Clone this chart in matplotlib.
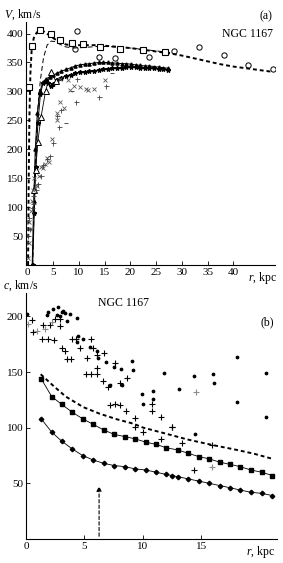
import numpy as np
import matplotlib.pyplot as plt

plt.rcParams['font.family'] = ['Liberation Serif', 'DejaVu Serif']
plt.rcParams['mathtext.fontset'] = 'custom'
plt.rcParams['mathtext.rm'] = 'Liberation Serif'
plt.rcParams['mathtext.it'] = 'Liberation Serif:italic'
plt.rcParams['font.size'] = 8

# ---------------- panel (a): rotation curves ----------------
sq_r = [0.2, 0.9, 2.5, 4.55, 6.4, 8.6, 10.7, 14.1, 18.0, 22.4, 26.7]
sq_V = [307, 378, 407, 399, 389, 384, 382, 376, 373, 372, 368]

circ_r = [9.6, 9.2, 13.9, 17.0, 23.7, 28.5, 33.4, 38.2, 42.9, 47.8]
circ_V = [404, 373, 360, 357, 360, 370, 377, 363, 346, 338]

thick_r = [0.1, 0.2, 0.35, 0.55, 0.8, 1.2, 1.8, 2.5, 3.3, 4.2, 5.2, 6.4, 7.5, 9.0, 11.0, 13.0,
           15.0, 17.5, 20.0, 22.5, 25.0, 27.5, 30.0, 32.5, 35.0, 37.5, 40.0, 42.5, 45.0, 47.5]
thick_V = [0, 120, 250, 330, 372, 392, 402, 405, 403, 397, 391, 385, 381, 380, 380, 380,
           379, 377, 375, 372, 369, 366, 362, 357, 352, 347, 343, 340, 337, 334]

thin_r = [1.0, 1.3, 1.6, 2.0, 2.5, 3.1, 3.8, 4.6, 5.4, 6.4, 7.4, 9.0, 11.0, 14.0, 17.0, 20.0, 23.0, 26.0, 28.0]
thin_V = [0, 110, 200, 270, 320, 358, 380, 387, 386, 381, 377, 375, 376, 378, 377, 375, 372, 369, 367]

tri_r = [0.9, 1.2, 1.5, 1.9, 2.4, 3.0, 3.6, 4.3, 5.0, 5.8, 6.6, 7.5, 8.4, 9.3, 10.2, 11.1, 12.0, 12.9,
         13.8, 14.7, 15.6, 16.5, 17.4, 18.3, 19.2, 20.1, 21.0, 21.9, 22.8, 23.7, 24.6, 25.5, 26.4, 27.3]
tri_V = [0, 110, 200, 262, 300, 316, 322, 325, 328, 332, 335, 338, 341, 344, 346, 347, 348, 349,
         350, 350, 350, 349, 349, 348, 348, 347, 346, 345, 344, 344, 343, 342, 341, 340]

star_r = [1.0, 1.3, 1.6, 2.0, 2.5, 3.0, 3.5, 4.0, 4.5, 5.0, 5.8, 6.6, 7.5, 8.4, 9.3, 10.2, 11.1, 12.0,
          12.9, 13.8, 14.7, 15.6, 16.5, 17.4, 18.3, 19.2, 20.1, 21.0, 21.9, 22.8, 23.7, 24.6, 25.5, 26.4, 27.3]
star_V = [0, 90, 170, 245, 295, 314, 318, 314, 309, 313, 320, 324, 327, 329, 331, 333, 334, 335,
          336, 337, 338, 339, 340, 341, 341, 342, 342, 342, 341, 341, 340, 340, 339, 338, 337]

otri_r = [1.2, 1.6, 2.0, 2.6, 3.5, 4.5, 5.5]
otri_V = [130, 165, 213, 255, 300, 334, 318]

cross_r = [0.1, 0.2, 0.35, 0.5, 0.7, 0.9, 1.1, 1.3, 1.6, 1.8, 2.3, 2.6, 3.0, 3.3, 3.7, 4.2, 4.7,
           5.7, 5.8, 6.3, 7.1, 8.2, 9.0, 6.3, 7.9, 10.2, 11.3, 11.8, 12.9, 15.1]
cross_V = [12, 38, 75, 63, 94, 110, 130, 150, 138, 136, 153, 170, 168, 175, 185, 178, 218,
           251, 262, 282, 271, 302, 310, 321, 320, 307, 304, 303, 305, 320]

plus_r = [0.15, 0.35, 0.47, 0.8, 1.0, 1.1, 1.6, 2.0, 2.7, 3.05, 3.7, 4.4, 5.0, 5.7, 6.2, 6.6,
          9.4, 9.7, 13.8, 15.3]
plus_V = [50, 82, 63, 99, 119, 105, 130, 140, 153, 173, 183, 188, 211, 257, 238, 268,
          282, 321, 291, 309]

dash_r = [7.5, 8.6, 16.4]
dash_V = [245, 300, 331]

# ---------------- panel (b): dispersion ----------------
dia_r = [1.3, 2.2, 3.05, 3.95, 4.85, 5.75, 6.65, 7.55, 8.45, 9.35, 10.25, 11.15, 12.0, 12.5, 13.0,
         13.9, 14.8, 15.7, 16.6, 17.5, 18.35, 19.25, 20.2, 21.1]
dia_c = [108, 96, 88, 81, 75, 71, 68, 66, 65, 63, 62, 60, 58, 57, 56,
         54, 52, 50, 48, 46, 44, 42, 41, 39]

bsq_r = [1.3, 2.2, 3.05, 3.95, 4.85, 5.75, 6.65, 7.55, 8.45, 9.35, 10.25, 11.15, 12.0, 13.0,
         13.9, 14.8, 15.7, 16.6, 17.5, 18.35, 19.25, 20.2, 21.1]
bsq_c = [144, 128, 121, 114, 108, 103, 98, 94, 92, 90, 87, 85, 82, 80,
         77, 74, 72, 69, 67, 65, 62, 60, 57]

bdash_r = [1.26, 2.3, 3.4, 4.9, 6.3, 7.8, 9.2, 10.05, 12.0, 13.8, 15.8, 17.8, 19.5, 21.05]
bdash_c = [148, 138, 128, 118.5, 112.6, 107.5, 103.6, 100, 94.6, 89.5, 84.8, 80.6, 76.7, 72.2]

dot_r = [0.1, 1.77, 1.91, 2.34, 2.63, 2.77, 2.91, 3.06, 3.2, 3.34, 3.77, 4.4, 3.49, 4.49, 4.91, 4.4,
         5.48, 6.06, 6.2, 6.86, 7.54, 8.11, 9.05, 9.14, 7.2, 8.2, 9.91, 10.0, 10.85, 10.91, 11.85,
         13.1, 14.4, 16.05, 16.1, 18.05, 18.05, 20.57, 20.57, 14.48]
dot_c = [202, 201.6, 203.7, 206.7, 201, 208, 200, 203.7, 204.6, 202.8, 202, 198.4, 195.4, 182.8,
         179.8, 176.9, 172.4, 169.3, 162.5, 158.9, 154.4, 152.9, 159.8, 152, 138, 138, 130.5, 121.5,
         132.9, 126, 149, 134.4, 146, 148.4, 140.4, 163.4, 123, 149, 110, 94.6]

bplus_r = [0.49, 0.57, 1.48, 2.06, 2.91, 2.91, 2.49, 1.34, 1.91, 2.4, 3.06, 3.34, 3.49, 3.83, 3.91,
           4.28, 4.63, 5.26, 5.54, 5.71, 6.06, 6.11, 5.14, 5.54, 6.06, 6.69, 7.63, 6.63, 7.06, 8.06,
           8.63, 7.2, 7.63, 8.06, 8.57, 9.34, 10.77, 10.83, 11.57, 12.48, 9.34, 10.0, 12.48, 11.57,
           13.34, 14.4, 15.9]
bplus_c = [197, 186, 192, 192, 191, 198, 198, 180, 180, 179, 172, 169, 162, 162, 180,
           180, 172, 163, 180, 172, 165, 154, 148, 148, 148, 167, 158, 142, 137, 140,
           145, 120, 121, 120, 115, 109, 115, 121, 110, 101, 101, 96, 101, 90,
           86, 62, 84]

gplus_r = [0.2, 0.9, 1.6, 2.2, 14.6, 15.9]
gplus_c = [193, 187, 189, 195, 132, 65]

arrow_r = 6.26
arrow_c = 50

fig = plt.figure(figsize=(2.83, 5.63), dpi=100)
ax1 = fig.add_axes([26 / 283, 1 - 265 / 563, 249 / 283, 243 / 563])
ax2 = fig.add_axes([26 / 283, 1 - 539 / 563, 251 / 283, 246 / 563])

for ax in (ax1, ax2):
    ax.spines['top'].set_visible(False)
    ax.spines['right'].set_visible(False)
    ax.spines['left'].set_linewidth(0.8)
    ax.spines['bottom'].set_linewidth(0.8)
    ax.tick_params(direction='in', length=3, width=0.6, labelsize=8, pad=2)

# panel (a)
ax1.plot(thick_r, thick_V, color='k', lw=1.4, ls=(0, (2, 1.5)))
ax1.plot(thin_r, thin_V, color='k', lw=0.7, ls=(0, (5, 3)))
ax1.plot(tri_r, tri_V, color='k', lw=0.7, marker='^', ms=2.3, mfc='k', mec='k')
ax1.plot(star_r, star_V, color='k', lw=0.7, marker='*', ms=3.2, mfc='k', mec='k')
ax1.plot(otri_r, otri_V, color='k', lw=0.6, marker='^', ms=3.8, mfc='white', mec='k', mew=0.7)
ax1.plot(sq_r, sq_V, ls='none', marker='s', ms=3.8, mfc='white', mec='k', mew=0.8)
ax1.plot(circ_r, circ_V, ls='none', marker='o', ms=3.8, mfc='none', mec='k', mew=0.7)
ax1.plot(cross_r, cross_V, ls='none', marker='x', ms=2.8, mec='0.35', mew=0.6)
ax1.plot(plus_r, plus_V, ls='none', marker='+', ms=3.6, mec='0.25', mew=0.6)
ax1.plot(dash_r, dash_V, ls='none', marker='_', ms=3.5, mec='0.3', mew=0.7)

ax1.set_xlim(-0.3, 48.1)
ax1.set_ylim(0, 420)
ax1.set_xticks(range(0, 45, 5))
ax1.set_yticks(range(50, 450, 50))
ax1.text(-0.09, 1.0, '$V$, km/s', transform=ax1.transAxes, ha='left', va='bottom', fontsize=8.5)
ax1.text(0.99, 1.0, '(a)', transform=ax1.transAxes, ha='right', va='bottom', fontsize=8.5)
ax1.text(0.99, 0.975, 'NGC 1167', transform=ax1.transAxes, ha='right', va='top', fontsize=8.5)
ax1.text(45.7, -9, '$r$, kpc', ha='center', va='top', fontsize=8.5)

# panel (b)
ax2.plot(bdash_r, bdash_c, color='k', lw=1.4, ls=(0, (2, 1.5)))
ax2.plot(bsq_r, bsq_c, color='k', lw=0.6, marker='s', ms=3.0, mfc='k', mec='k')
ax2.plot(dia_r, dia_c, color='k', lw=0.6, marker='D', ms=2.3, mfc='k', mec='k')
ax2.plot(dot_r, dot_c, ls='none', marker='o', ms=1.7, mfc='k', mec='k')
ax2.plot(bplus_r, bplus_c, ls='none', marker='+', ms=5, mec='k', mew=0.8)
ax2.plot(gplus_r, gplus_c, ls='none', marker='+', ms=5, mec='0.55', mew=0.8)
ax2.annotate('', xy=(arrow_r, arrow_c), xytext=(arrow_r, 0),
             arrowprops=dict(arrowstyle='-|>', ls=(0, (3, 2)), lw=0.8, color='k',
                             mutation_scale=7))

ax2.set_xlim(0, 21.5)
ax2.set_ylim(0, 221)
ax2.set_xticks([0, 5, 10, 15])
ax2.set_yticks([50, 100, 150, 200])
ax2.text(-0.09, 1.0, '$c$, km/s', transform=ax2.transAxes, ha='left', va='bottom', fontsize=8.5)
ax2.text(0.99, 0.88, '(b)', transform=ax2.transAxes, ha='right', va='center', fontsize=8.5)
ax2.text(0.39, 0.96, 'NGC 1167', transform=ax2.transAxes, ha='center', va='center', fontsize=8.5)
ax2.text(20.1, -4.5, '$r$, kpc', ha='center', va='top', fontsize=8.5)

plt.savefig('out.png', dpi=100)
